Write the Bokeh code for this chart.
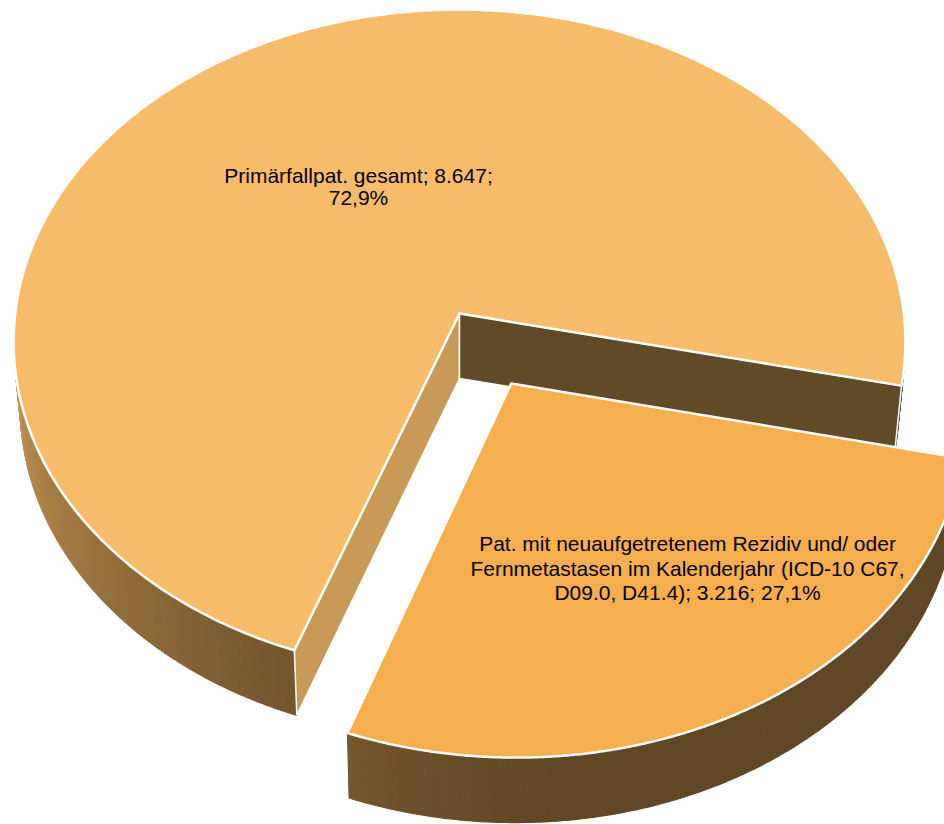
import numpy as np
from bokeh.plotting import figure
from bokeh.models import Range1d, ColumnDataSource
from bokeh.core.properties import value
from bokeh.embed import file_html
from bokeh.resources import INLINE

# ---------------- data ----------------
categories = ["Primärfallpat. gesamt",
              "Pat. mit neuaufgetretenem Rezidiv und/ oder Fernmetastasen im Kalenderjahr (ICD-10 C67, D09.0, D41.4)"]
counts = [8647, 3216]
count_labels = ["8.647", "3.216"]
pct_labels = ["72,9%", "27,1%"]
label_lines = [
    ["Primärfallpat. gesamt; 8.647;", "72,9%"],
    ["Pat. mit neuaufgetretenem Rezidiv und/ oder",
     "Fernmetastasen im Kalenderjahr (ICD-10 C67,",
     "D09.0, D41.4); 3.216; 27,1%"],
]
explode = [0.0, 0.2376]
top_colors = ["#F6BC69", "#F5AF4E"]

# ---------------- 3D pie projection settings ----------------
X0, Y0 = 459.0, 313.0      # screen position of pie centre
A, S, C = 444.3, 329.8, 0.085  # horizontal radius, vertical radius, perspective
H = 65.0                   # wall height (px)
SHRINK = 0.985             # perspective shrink of bottom rim
START = 200.0              # start angle, degrees clockwise from far side

DARK = np.array([97, 71, 38])
LIGHT = np.array([198, 150, 84])
START_FACE = "#C99A57"
END_FACE = "#624A29"


def proj(u, v, low=False):
    den = 1.0 + C * v
    x = X0 + A * u / den
    y = Y0 - S * v / den
    if low:
        x = X0 + (x - X0) * SHRINK
        y = y + H
    return x, y


def wall_color(theta):
    th = theta % 360.0
    t = min(max((th - 175.0) / 90.0, 0.0), 1.0) ** 1.3
    c = DARK + t * (LIGHT - DARK)
    return "#%02x%02x%02x" % tuple(int(round(k)) for k in c)


def signed_area(xs, ys):
    s = 0.0
    for i in range(len(xs)):
        j = (i + 1) % len(xs)
        s += xs[i] * ys[j] - xs[j] * ys[i]
    return s


total = float(sum(counts))
spans = [c / total * 360.0 for c in counts]
starts = [START + sum(spans[:i]) for i in range(len(spans))]

p = figure(width=944, height=824, x_range=Range1d(0, 944), y_range=Range1d(824, 0),
           output_backend="svg", toolbar_location=None, min_border=0)
p.axis.visible = False
p.grid.visible = False
p.outline_line_color = None
p.background_fill_color = "white"
p.border_fill_color = "white"

for i in range(len(counts)):
    a0 = starts[i]
    a1 = a0 + spans[i]
    mid = np.radians((a0 + a1) / 2.0)
    ex, ev = explode[i] * np.sin(mid), explode[i] * np.cos(mid)

    def rim(theta_deg, low=False):
        t = np.radians(theta_deg)
        return proj(np.sin(t) + ex, np.cos(t) + ev, low)

    apx_t = proj(ex, ev)
    apx_b = proj(ex, ev, True)

    # outer curved wall, split into strips for shading
    thetas = np.linspace(a0, a1, int(spans[i] * 2) + 2)
    wx, wy, wc = [], [], []
    for k in range(len(thetas) - 1):
        tm = np.radians((thetas[k] + thetas[k + 1]) / 2.0)
        if np.cos(tm) < -C:
            p1 = rim(thetas[k]); p2 = rim(thetas[k + 1])
            p3 = rim(thetas[k + 1], True); p4 = rim(thetas[k], True)
            wx.append([p1[0], p2[0], p3[0], p4[0]])
            wy.append([p1[1], p2[1], p3[1], p4[1]])
            wc.append(wall_color((thetas[k] + thetas[k + 1]) / 2.0))
    if wx:
        p.patches(xs="xs", ys="ys", fill_color="c", line_color="c", line_width=1.2,
                  source=ColumnDataSource(dict(xs=wx, ys=wy, c=wc)))

    # radial cut faces
    for ang, sign, col in [(a0, -1, START_FACE), (a1, 1, END_FACE)]:
        rt = rim(ang); rb = rim(ang, True)
        fx = [apx_t[0], rt[0], rb[0], apx_b[0]]
        fy = [apx_t[1], rt[1], rb[1], apx_b[1]]
        if signed_area(fx, fy) * sign > 0:
            p.patch(fx, fy, fill_color=col, line_color="white", line_width=1.5)

    # top face
    tt = np.linspace(a0, a1, 400)
    tx = [apx_t[0]] + [rim(t)[0] for t in tt]
    ty = [apx_t[1]] + [rim(t)[1] for t in tt]
    p.patch(tx, ty, fill_color=top_colors[i], line_color="white", line_width=2.5,
            line_join="miter")

# ---------------- labels ----------------
label_pos = [(358, [175, 197]), (687, [543, 568, 592])]
lx, ly, lt = [], [], []
for (cx, bls), lines in zip(label_pos, label_lines):
    for b, line in zip(bls, lines):
        lx.append(cx); ly.append(b); lt.append(line)
p.text(x=lx, y=ly, text=lt, text_font=value("Liberation Sans"), text_font_size="21px",
       text_align="center", text_baseline="alphabetic", text_color="black")

open("out.html", "w").write(file_html(p, INLINE))
